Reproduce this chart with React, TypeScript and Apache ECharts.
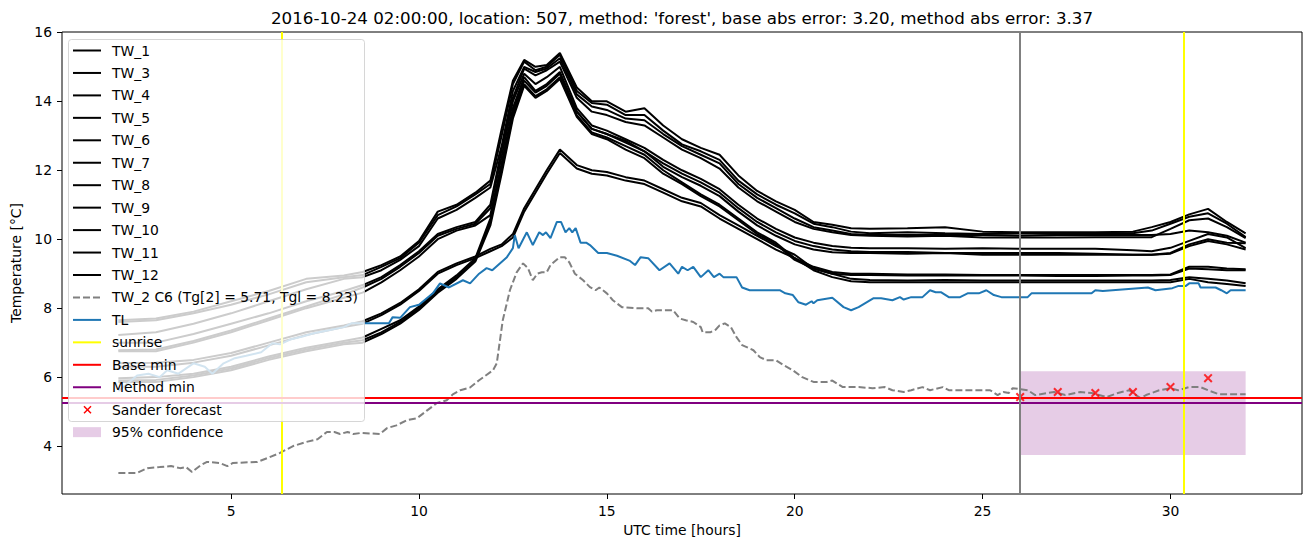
import React, { useEffect, useRef } from "react";
import * as echarts from "echarts";

const TITLE =
  "2016-10-24 02:00:00, location: 507, method: 'forest', base abs error: 3.20, method abs error: 3.37";

const HOURS = [2, 3, 4, 5, 6, 7, 8, 8.5, 9, 9.5, 10, 10.5, 11, 11.5, 11.9, 12.2, 12.5, 12.8, 13.1, 13.4, 13.75, 14.2, 14.6, 15, 15.5, 16, 16.5, 17, 17.5, 18, 18.5, 19, 19.5, 20, 20.5, 21, 21.5, 22, 23, 24, 25, 26, 27, 28, 29, 29.5, 30, 30.5, 31, 31.5, 32];

const TW_1 = [7.65, 7.7, 7.9, 8.2, 8.5, 8.85, 8.95, 9.05, 9.25, 9.5, 9.95, 10.8, 11.0, 11.35, 11.7, 13.2, 14.6, 15.2, 15.0, 15.05, 15.4, 14.4, 14.0, 14.0, 13.7, 13.8, 13.3, 12.9, 12.65, 12.45, 11.85, 11.4, 11.1, 10.85, 10.5, 10.42, 10.32, 10.3, 10.32, 10.35, 10.22, 10.2, 10.2, 10.2, 10.22, 10.35, 10.5, 10.72, 10.88, 10.5, 10.17];
const TW_3 = [7.6, 7.65, 7.85, 8.1, 8.4, 8.75, 8.9, 8.96, 9.2, 9.45, 9.9, 10.7, 10.95, 11.3, 11.6, 13.0, 14.5, 15.15, 14.9, 15.0, 15.35, 14.3, 13.95, 13.9, 13.6, 13.6, 13.15, 12.75, 12.55, 12.3, 11.7, 11.3, 11.0, 10.75, 10.45, 10.35, 10.22, 10.17, 10.2, 10.17, 10.15, 10.17, 10.15, 10.17, 10.17, 10.25, 10.45, 10.65, 10.75, 10.45, 10.06];
const TW_4 = [7.22, 7.3, 7.55, 7.85, 8.2, 8.55, 8.85, 8.9, 9.1, 9.4, 9.8, 10.6, 10.85, 11.2, 11.5, 12.7, 14.3, 15.0, 14.85, 14.95, 15.25, 14.2, 13.85, 13.75, 13.5, 13.45, 13.05, 12.7, 12.45, 12.2, 11.6, 11.2, 10.9, 10.6, 10.35, 10.25, 10.15, 10.12, 10.12, 10.12, 10.12, 10.1, 10.12, 10.12, 10.12, 10.12, 10.15, 10.25, 10.2, 10.1, 9.9];
const TW_5 = [7.0, 7.0, 7.25, 7.55, 7.85, 8.2, 8.5, 8.67, 8.9, 9.25, 9.65, 10.15, 10.35, 10.5, 11.0, 12.6, 14.1, 14.95, 14.75, 14.9, 15.15, 14.1, 13.7, 13.6, 13.4, 13.3, 12.95, 12.6, 12.35, 12.05, 11.5, 11.1, 10.8, 10.5, 10.3, 10.2, 10.12, 10.1, 10.08, 10.1, 10.05, 10.05, 10.05, 10.06, 10.06, 10.06, 10.3, 10.55, 10.6, 10.35, 10.03];
const TW_6 = [6.78, 6.8, 7.05, 7.35, 7.7, 8.05, 8.4, 8.6, 8.85, 9.2, 9.6, 10.1, 10.3, 10.45, 10.9, 12.4, 14.0, 14.8, 14.5, 14.7, 15.0, 13.8, 13.3, 13.15, 12.9, 12.65, 12.3, 12.0, 11.75, 11.45, 11.0, 10.6, 10.3, 10.05, 9.9, 9.8, 9.75, 9.74, 9.74, 9.72, 9.74, 9.72, 9.72, 9.72, 9.68, 9.65, 9.75, 9.95, 10.15, 10.05, 9.74];
const TW_7 = [6.75, 6.75, 7.0, 7.3, 7.65, 8.0, 8.3, 8.45, 8.75, 9.1, 9.5, 10.0, 10.25, 10.4, 10.7, 12.2, 13.8, 14.7, 14.3, 14.5, 14.85, 13.7, 13.2, 13.05, 12.85, 12.55, 12.2, 11.9, 11.65, 11.35, 10.9, 10.5, 10.2, 9.95, 9.8, 9.7, 9.65, 9.63, 9.63, 9.6, 9.6, 9.6, 9.6, 9.58, 9.55, 9.55, 9.6, 9.85, 10.0, 9.9, 9.88];
const TW_8 = [5.97, 6.0, 6.1, 6.3, 6.6, 6.85, 7.05, 7.15, 7.4, 7.65, 8.05, 8.55, 8.95, 9.45, 10.6, 12.1, 13.7, 14.6, 14.25, 14.45, 14.8, 13.7, 13.2, 13.05, 12.8, 12.55, 12.1, 11.8, 11.55, 11.25, 10.8, 10.4, 10.1, 9.85, 9.7, 9.62, 9.6, 9.6, 9.58, 9.6, 9.55, 9.55, 9.55, 9.55, 9.55, 9.55, 9.58, 9.8, 9.95, 9.85, 9.7];
const TW_9 = [5.9, 5.92, 6.05, 6.25, 6.55, 6.8, 7.0, 7.07, 7.3, 7.6, 8.0, 8.5, 8.9, 9.4, 10.5, 12.0, 13.6, 14.5, 14.15, 14.35, 14.7, 13.6, 13.1, 12.95, 12.7, 12.45, 12.0, 11.65, 11.3, 11.0, 10.6, 10.2, 9.9, 9.45, 9.2, 9.05, 9.0, 9.0, 8.98, 8.98, 8.96, 8.96, 8.96, 8.96, 8.96, 8.96, 8.98, 9.2, 9.2, 9.15, 9.13];
const TW_10 = [5.86, 5.86, 6.0, 6.2, 6.5, 6.75, 6.95, 7.0, 7.25, 7.55, 7.95, 8.45, 8.85, 9.35, 10.4, 11.9, 13.5, 14.45, 14.1, 14.3, 14.65, 13.55, 13.05, 12.9, 12.6, 12.35, 11.9, 11.6, 11.25, 10.95, 10.55, 10.15, 9.85, 9.4, 9.15, 9.0, 8.96, 8.96, 8.95, 8.95, 8.95, 8.95, 8.93, 8.93, 8.95, 8.95, 8.96, 9.15, 9.13, 9.1, 9.1];
const TW_11 = [6.4, 6.42, 6.5, 6.7, 7.0, 7.3, 7.5, 7.62, 7.85, 8.15, 8.55, 9.05, 9.3, 9.5, 9.72, 9.85, 10.15, 10.9, 11.45, 12.0, 12.6, 12.15, 12.0, 11.95, 11.8, 11.7, 11.45, 11.2, 11.05, 10.7, 10.4, 10.1, 9.8, 9.55, 9.15, 9.0, 8.85, 8.82, 8.8, 8.82, 8.8, 8.8, 8.8, 8.8, 8.8, 8.8, 8.82, 8.9, 8.85, 8.8, 8.72];
const TW_12 = [6.3, 6.3, 6.42, 6.62, 6.92, 7.22, 7.45, 7.55, 7.8, 8.1, 8.5, 9.0, 9.25, 9.45, 9.65, 9.8, 10.05, 10.8, 11.35, 11.9, 12.5, 12.05, 11.9, 11.85, 11.7, 11.6, 11.35, 11.1, 10.95, 10.6, 10.3, 10.0, 9.7, 9.45, 9.1, 8.9, 8.78, 8.75, 8.75, 8.75, 8.75, 8.75, 8.75, 8.75, 8.75, 8.75, 8.75, 8.85, 8.75, 8.7, 8.64];

const TW_NAMES = ["TW_1", "TW_3", "TW_4", "TW_5", "TW_6", "TW_7", "TW_8", "TW_9", "TW_10", "TW_11", "TW_12"];
const TW_VALUES = [TW_1, TW_3, TW_4, TW_5, TW_6, TW_7, TW_8, TW_9, TW_10, TW_11, TW_12];

const TW_2_LABEL = "TW_2 C6 (Tg[2] = 5.71, Tgl = 8.23)";
const TW_2 = [[2, 3.22], [2.5, 3.22], [2.77, 3.36], [3.1, 3.39], [3.4, 3.42], [3.64, 3.36], [3.8, 3.39], [3.96, 3.25], [4.2, 3.45], [4.36, 3.54], [4.7, 3.51], [4.9, 3.42], [5.05, 3.51], [5.7, 3.54], [5.96, 3.65], [6.3, 3.8], [6.65, 4.0], [7.0, 4.12], [7.3, 4.2], [7.55, 4.41], [7.75, 4.41], [7.9, 4.35], [8.1, 4.41], [8.25, 4.35], [8.45, 4.38], [8.96, 4.35], [9.15, 4.52], [9.4, 4.6], [9.68, 4.75], [9.95, 4.81], [10.2, 5.02], [10.48, 5.25], [10.74, 5.33], [10.9, 5.5], [11.1, 5.62], [11.36, 5.7], [11.6, 5.91], [11.97, 6.2], [12.07, 6.4], [12.23, 7.65], [12.42, 8.52], [12.6, 9.04], [12.77, 9.3], [12.9, 9.16], [13.03, 8.81], [13.15, 9.0], [13.27, 9.04], [13.4, 9.04], [13.5, 9.25], [13.75, 9.48], [13.88, 9.48], [14.0, 9.33], [14.15, 9.0], [14.37, 8.81], [14.55, 8.61], [14.7, 8.52], [14.8, 8.6], [15.0, 8.43], [15.16, 8.23], [15.4, 8.03], [15.8, 8.0], [16.1, 8.0], [16.2, 7.9], [16.33, 7.94], [16.76, 7.94], [16.94, 7.7], [17.1, 7.65], [17.3, 7.6], [17.5, 7.45], [17.55, 7.3], [17.75, 7.3], [17.9, 7.38], [18.0, 7.5], [18.14, 7.56], [18.3, 7.45], [18.45, 7.16], [18.6, 6.93], [18.9, 6.78], [19.07, 6.58], [19.25, 6.49], [19.5, 6.49], [19.7, 6.35], [19.95, 6.2], [20.2, 6.0], [20.5, 5.86], [20.85, 5.86], [21.0, 5.9], [21.28, 5.71], [21.7, 5.71], [22.07, 5.68], [22.4, 5.71], [22.6, 5.62], [22.9, 5.57], [23.1, 5.62], [23.4, 5.71], [23.6, 5.62], [23.94, 5.71], [24.1, 5.62], [25.2, 5.62], [25.4, 5.48], [25.55, 5.57], [25.7, 5.54], [25.8, 5.68], [26.2, 5.62], [26.4, 5.48], [26.9, 5.57], [27.2, 5.48], [27.6, 5.57], [27.9, 5.54], [28.3, 5.42], [28.6, 5.54], [28.9, 5.62], [29.2, 5.39], [29.35, 5.48], [29.7, 5.62], [30.0, 5.68], [30.2, 5.62], [30.5, 5.71], [30.8, 5.71], [31.04, 5.6], [31.3, 5.5], [32, 5.5]];

const TL = [[2, 5.6], [2.5, 6.05], [2.8, 6.1], [3.1, 6.0], [3.3, 6.2], [3.6, 6.1], [4.0, 6.4], [4.3, 6.3], [4.5, 6.1], [4.8, 6.4], [5.1, 6.55], [5.4, 6.62], [5.8, 6.72], [6.1, 6.98], [6.3, 6.95], [6.6, 7.1], [6.9, 7.18], [7.2, 7.27], [7.6, 7.36], [8.0, 7.45], [8.2, 7.56], [8.6, 7.56], [9.2, 7.56], [9.3, 7.74], [9.5, 7.72], [9.76, 8.03], [10.0, 8.1], [10.37, 8.43], [10.56, 8.72], [10.8, 8.6], [11.17, 8.81], [11.36, 8.72], [11.6, 9.0], [11.8, 9.16], [11.95, 9.1], [12.34, 9.48], [12.5, 9.74], [12.55, 10.12], [12.65, 9.74], [12.87, 10.2], [13.03, 9.83], [13.2, 10.2], [13.3, 10.12], [13.38, 10.2], [13.5, 10.03], [13.67, 10.5], [13.78, 10.5], [13.9, 10.2], [14.0, 10.32], [14.08, 10.2], [14.17, 10.32], [14.3, 9.9], [14.45, 9.9], [14.55, 9.83], [14.77, 9.6], [15.0, 9.6], [15.27, 9.52], [15.6, 9.38], [15.75, 9.25], [15.9, 9.48], [16.1, 9.45], [16.4, 9.1], [16.67, 9.3], [16.9, 9.0], [17.0, 9.2], [17.15, 9.1], [17.3, 9.2], [17.5, 8.9], [17.7, 9.1], [17.85, 8.9], [18.0, 9.0], [18.1, 8.9], [18.45, 8.9], [18.6, 8.6], [18.8, 8.52], [19.6, 8.52], [19.75, 8.43], [19.95, 8.38], [20.1, 8.17], [20.3, 8.1], [20.45, 8.2], [20.5, 8.14], [20.6, 8.23], [21.0, 8.3], [21.3, 8.03], [21.5, 7.94], [21.7, 8.03], [22.1, 8.29], [22.3, 8.29], [22.6, 8.23], [22.8, 8.32], [22.9, 8.25], [23.1, 8.32], [23.4, 8.32], [23.6, 8.52], [23.75, 8.46], [23.9, 8.46], [24.1, 8.32], [24.4, 8.32], [24.6, 8.43], [24.9, 8.43], [25.1, 8.52], [25.3, 8.38], [25.5, 8.32], [26.2, 8.32], [26.3, 8.43], [27.9, 8.43], [28.0, 8.52], [28.2, 8.5], [29.4, 8.6], [29.6, 8.52], [30.05, 8.58], [30.2, 8.64], [30.4, 8.64], [30.5, 8.72], [30.75, 8.72], [30.8, 8.6], [31.2, 8.6], [31.35, 8.52], [31.5, 8.43], [31.6, 8.52], [32, 8.52]];

const SUNRISE = [6.36, 30.35];
const FORECAST_START = 26;
const BASE_MIN = 5.41;
const METHOD_MIN = 5.25;
const FORECAST_HOURS = [26, 27, 28, 29, 30, 31];
const FORECAST_VALUES = [5.42, 5.57, 5.54, 5.57, 5.71, 5.97];
const CONF_X = [26, 32];
const CONF_Y = [3.74, 6.17];

const X_TICKS = [5, 10, 15, 20, 25, 30];
const Y_TICKS = [4, 6, 8, 10, 12, 14, 16];

const FONT = "DejaVu Sans";
const X_SYMBOL = "path://M0,1.6L1.6,0L10,8.4L8.4,10Z M8.4,0L10,1.6L1.6,10L0,8.4Z";

type Entry = { label: string; kind: string; color: string; dash?: number[] };

const LEGEND: Entry[] = [
  ...TW_NAMES.map((n) => ({ label: n, kind: "line", color: "#000000" })),
  { label: TW_2_LABEL, kind: "line", color: "#808080", dash: [7, 3] },
  { label: "TL", kind: "line", color: "#1f77b4" },
  { label: "sunrise", kind: "line", color: "#ffff00" },
  { label: "Base min", kind: "line", color: "#ff0000" },
  { label: "Method min", kind: "line", color: "#800080" },
  { label: "Sander forecast", kind: "x", color: "#ff0000" },
  { label: "95% confidence", kind: "rect", color: "rgba(128,0,128,0.2)" },
];

function legendGraphics() {
  const els: any[] = [
    {
      type: "rect",
      z: 100,
      silent: true,
      shape: { x: 68.5, y: 39.5, width: 296, height: 382, r: 3 },
      style: { fill: "rgba(255,255,255,0.8)", stroke: "rgba(204,204,204,0.8)", lineWidth: 1 },
    },
  ];
  LEGEND.forEach((e, i) => {
    const y = 50.5 + i * 22.45;
    if (e.kind === "line") {
      els.push({
        type: "line",
        z: 101,
        silent: true,
        shape: { x1: 73, y1: y, x2: 101, y2: y },
        style: { stroke: e.color, lineWidth: 2, lineDash: e.dash || null },
      });
    } else if (e.kind === "x") {
      els.push({
        type: "line", z: 101, silent: true,
        shape: { x1: 84, y1: y - 3.5, x2: 91, y2: y + 3.5 },
        style: { stroke: e.color, lineWidth: 1.5 },
      });
      els.push({
        type: "line", z: 101, silent: true,
        shape: { x1: 84, y1: y + 3.5, x2: 91, y2: y - 3.5 },
        style: { stroke: e.color, lineWidth: 1.5 },
      });
    } else {
      els.push({
        type: "rect", z: 101, silent: true,
        shape: { x: 73, y: y - 5, width: 28, height: 10 },
        style: { fill: e.color },
      });
    }
    els.push({
      type: "text",
      z: 101,
      silent: true,
      x: 112,
      y: y,
      style: {
        text: e.label,
        fontSize: 13.9,
        fontFamily: FONT,
        fill: "#000",
        align: "left",
        verticalAlign: "middle",
      },
    });
  });
  els.push({
    type: "text",
    silent: true,
    x: 682,
    y: 18,
    style: {
      text: TITLE,
      fontSize: 16.7,
      fontFamily: FONT,
      fill: "#000",
      align: "center",
      verticalAlign: "middle",
    },
  });
  return els;
}

export default function App() {
  const ref = useRef<HTMLDivElement>(null);
  useEffect(() => {
    if (!ref.current) return;
    const chart = echarts.init(ref.current, undefined, { renderer: "svg" });
    const twSeries = TW_VALUES.map((vals, k) => ({
      name: TW_NAMES[k],
      type: "line",
      data: HOURS.map((h, i) => [h, vals[i]]),
      symbol: "none",
      showSymbol: false,
      silent: true,
      z: 2,
      lineStyle: { color: "#000000", width: 2 },
    }));
    const option: any = {
      animation: false,
      textStyle: { fontFamily: FONT },
      grid: {
        left: 62,
        right: 9,
        top: 32,
        bottom: 53,
        show: true,
        borderColor: "#000",
        borderWidth: 1,
        backgroundColor: "transparent",
      },
      xAxis: {
        type: "value",
        min: 0.5,
        max: 33.5,
        name: "UTC time [hours]",
        nameLocation: "middle",
        nameGap: 28,
        nameTextStyle: { fontSize: 13.9, color: "#000", fontFamily: FONT },
        splitLine: { show: false },
        axisLine: { show: false },
        axisTick: { show: true, length: 5, lineStyle: { color: "#000" }, customValues: X_TICKS },
        axisLabel: { customValues: X_TICKS, fontSize: 13.9, color: "#000", margin: 10, fontFamily: FONT },
      },
      yAxis: {
        type: "value",
        min: 2.61,
        max: 16.01,
        name: "Temperature [°C]",
        nameLocation: "middle",
        nameGap: 37,
        nameTextStyle: { fontSize: 13.9, color: "#000", fontFamily: FONT },
        splitLine: { show: false },
        axisLine: { show: false },
        axisTick: { show: true, length: 5, lineStyle: { color: "#000" }, customValues: Y_TICKS },
        axisLabel: { customValues: Y_TICKS, fontSize: 13.9, color: "#000", margin: 10, fontFamily: FONT },
      },
      graphic: legendGraphics(),
      series: [
        {
          name: "95% confidence",
          type: "line",
          data: [],
          silent: true,
          z: 1,
          markArea: {
            silent: true,
            itemStyle: { color: "rgba(128,0,128,0.2)" },
            data: [[{ coord: [CONF_X[0], CONF_Y[1]] }, { coord: [CONF_X[1], CONF_Y[0]] }]],
          },
        },
        ...twSeries,
        {
          name: TW_2_LABEL,
          type: "line",
          data: TW_2,
          symbol: "none",
          showSymbol: false,
          silent: true,
          z: 2,
          lineStyle: { color: "#808080", width: 2, type: [7, 3] },
        },
        {
          name: "TL",
          type: "line",
          data: TL,
          symbol: "none",
          showSymbol: false,
          silent: true,
          z: 2,
          lineStyle: { color: "#1f77b4", width: 2 },
        },
        {
          name: "markers",
          type: "line",
          data: [],
          silent: true,
          z: 3,
          markLine: {
            silent: true,
            symbol: ["none", "none"],
            label: { show: false },
            emphasis: { disabled: true },
            data: [
              { xAxis: SUNRISE[0], lineStyle: { color: "#ffff00", width: 2, type: "solid" } },
              { xAxis: SUNRISE[1], lineStyle: { color: "#ffff00", width: 2, type: "solid" } },
              { yAxis: BASE_MIN, lineStyle: { color: "#ff0000", width: 2, type: "solid" } },
              { yAxis: METHOD_MIN, lineStyle: { color: "#800080", width: 2, type: "solid" } },
              { xAxis: FORECAST_START, lineStyle: { color: "#808080", width: 2, type: "solid" } },
            ],
          },
        },
        {
          name: "Sander forecast",
          type: "scatter",
          data: FORECAST_HOURS.map((h, i) => [h, FORECAST_VALUES[i]]),
          symbol: X_SYMBOL,
          symbolSize: 9,
          silent: true,
          z: 4,
          itemStyle: { color: "#ff0000" },
        },
      ],
    };
    chart.setOption(option);
    return () => chart.dispose();
  }, []);
  return (
    <div
      ref={ref}
      style={{ position: "fixed", left: 0, top: 0, width: "1311px", height: "547px", background: "#fff" }}
    />
  );
}
